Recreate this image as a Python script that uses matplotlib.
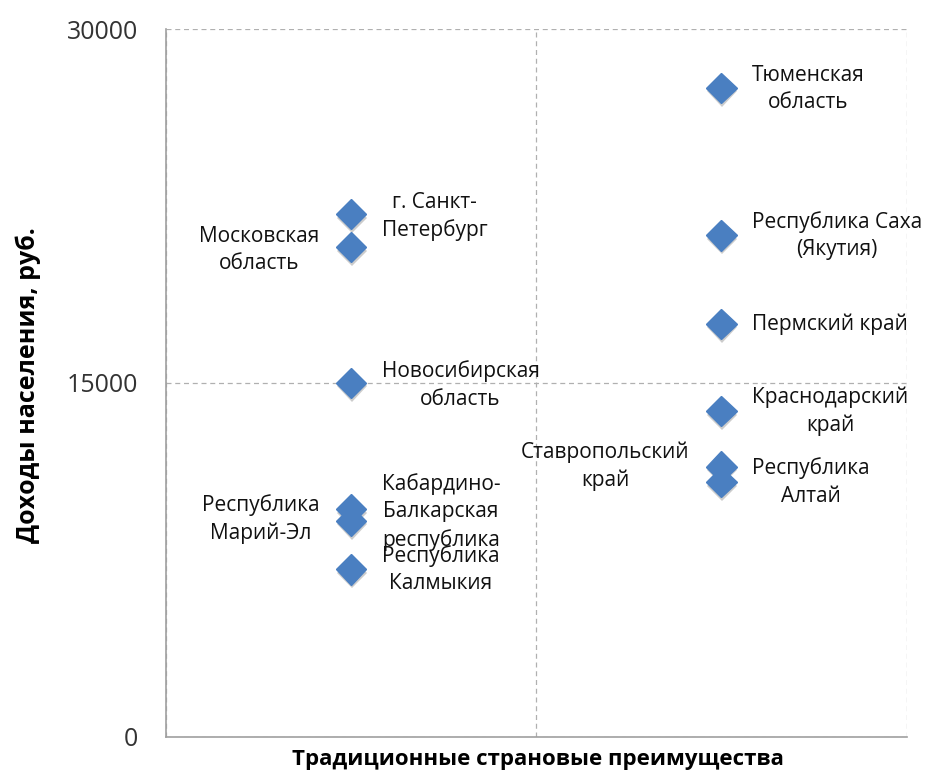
import matplotlib.pyplot as plt
import matplotlib.patheffects as pe

plt.rcParams['font.family'] = ['Open Sans', 'DejaVu Sans']

# Регионы: (x - группа, y - доходы населения)
regions = [
    "Тюменская\nобласть",
    "Республика Саха\n(Якутия)",
    "Пермский край",
    "Краснодарский\nкрай",
    "Ставропольский\nкрай",
    "Республика\nАлтай",
    "г. Санкт-\nПетербург",
    "Московская\nобласть",
    "Новосибирская\nобласть",
    "Кабардино-\nБалкарская\nреспублика",
    "Республика\nМарий-Эл",
    "Республика\nКалмыкия",
]
x_vals = [1.5, 1.5, 1.5, 1.5, 1.5, 1.5, 0.5, 0.5, 0.5, 0.5, 0.5, 0.5]
income = [27500, 21250, 17500, 13800, 11450, 10800, 22150, 20750, 15000, 9650, 9150, 7100]
# сторона подписи: 1 - справа, -1 - слева
side = [1, 1, 1, 1, -1, 1, 1, -1, 1, 1, -1, 1]
# небольшой сдвиг подписи по вертикали (в пунктах)
dy = [-0.7, 0, 0, 0, 0, 0, -1.5, -2, -1.5, -2, 1.5, 0]

y_ticks = [0, 15000, 30000]

fig = plt.figure(figsize=(9.27, 7.74), dpi=100)
ax = fig.add_axes([0.179, 0.048, 0.799, 0.9145])

shadow = [pe.SimplePatchShadow(offset=(0.5, -2.5), shadow_rgbFace='#9a9a9a', alpha=0.5), pe.Normal()]
ax.plot(x_vals, income, linestyle='none', marker='D', markersize=15.5,
        color='#4a7fc1', markeredgecolor='#4a7fc1', zorder=3, path_effects=shadow)

for name, x, y, s, d in zip(regions, x_vals, income, side, dy):
    ax.annotate(name, (x, y), xytext=(22 * s if s > 0 else -23, d), textcoords='offset points',
                ha='left' if s > 0 else 'right', va='center', multialignment='center',
                fontsize=15, color='#111111', linespacing=1.4)

ax.set_xlim(0, 2)
ax.set_ylim(0, 30000)
ax.set_xticks([0, 1, 2])
ax.set_xticklabels([])
ax.set_yticks(y_ticks)
ax.set_yticklabels([str(v) for v in y_ticks], fontsize=18, color='#333333')
ax.tick_params(length=0, pad=20)

ax.grid(True, linestyle=(0, (4, 3)), color='#b0b0b0', linewidth=0.9)
ax.set_axisbelow(True)
for sp in ['top', 'right']:
    ax.spines[sp].set_visible(False)
for sp in ['left', 'bottom']:
    ax.spines[sp].set_color('#a0a0a0')
    ax.spines[sp].set_linewidth(1.2)

fig.text(0.58, 0.019, "Традиционные страновые преимущества", ha='center', va='center',
         fontsize=16, fontweight='bold')
fig.text(0.03, 0.5026, "Доходы населения, руб.", ha='center', va='center',
         rotation=90, fontsize=18, fontweight='bold')

fig.savefig('out.png', dpi=100)
